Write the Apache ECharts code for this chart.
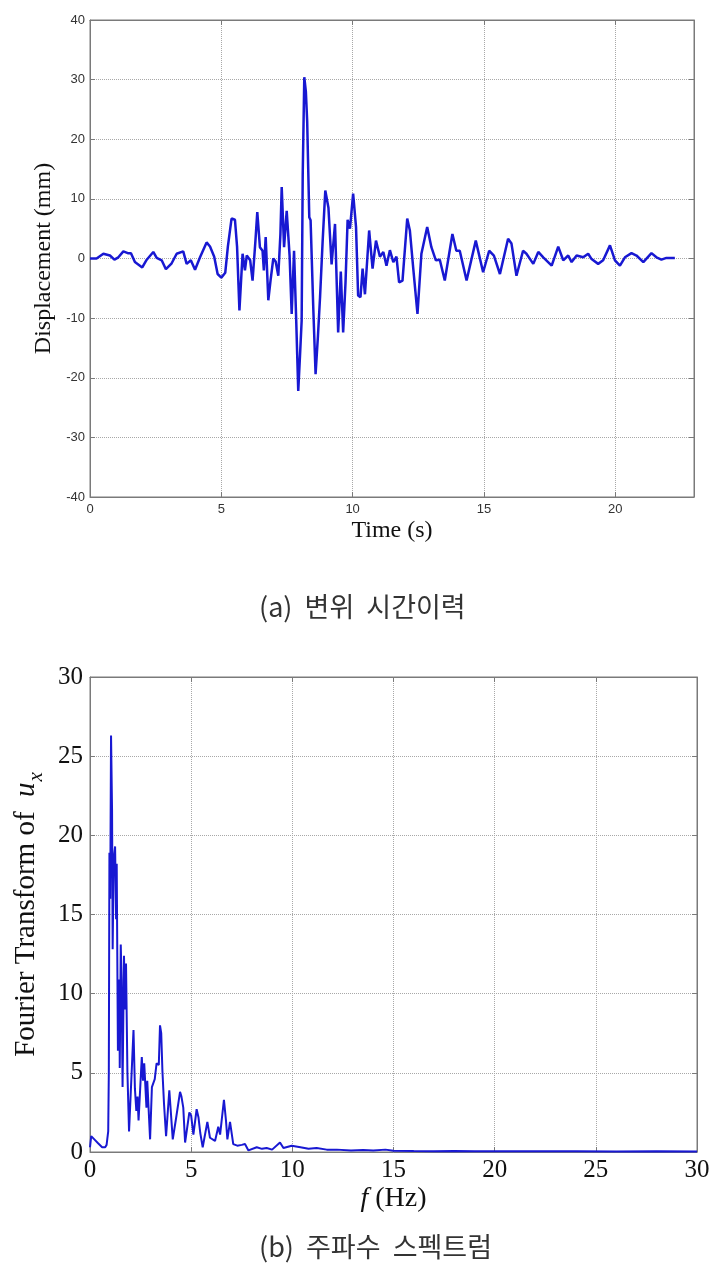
<!DOCTYPE html>
<html><head><meta charset="utf-8">
<script src="https://cdn.jsdelivr.net/npm/echarts/dist/echarts.min.js"></script>
<style>html,body{margin:0;padding:0;background:#fff}#c{width:716px;height:1271px}</style>
</head><body><div id="c"></div>
<script>
// (a) displacement time history
const timeS = [0,0.25,0.51,0.76,0.93,1.08,1.27,1.44,1.56,1.71,1.99,2.16,2.41,2.54,2.73,2.89,3.11,3.3,3.55,3.68,3.84,4.0,4.19,4.44,4.57,4.73,4.86,5.0,5.15,5.25,5.39,5.52,5.6,5.69,5.81,5.9,5.97,6.1,6.19,6.3,6.37,6.47,6.57,6.62,6.69,6.79,6.88,6.98,7.07,7.17,7.25,7.3,7.39,7.49,7.6,7.68,7.77,7.85,7.93,8.0,8.06,8.1,8.16,8.22,8.27,8.35,8.4,8.5,8.59,8.68,8.76,8.86,8.96,9.08,9.2,9.33,9.45,9.55,9.64,9.73,9.81,9.9,10.02,10.13,10.21,10.3,10.38,10.47,10.63,10.76,10.89,11.04,11.17,11.29,11.42,11.55,11.67,11.77,11.9,12.08,12.18,12.31,12.47,12.62,12.84,13.0,13.17,13.32,13.51,13.8,13.95,14.08,14.34,14.69,14.97,15.2,15.38,15.61,15.92,16.05,16.24,16.49,16.62,16.88,17.07,17.26,17.58,17.83,18.02,18.21,18.34,18.53,18.78,18.97,19.1,19.35,19.54,19.8,19.99,20.18,20.37,20.62,20.81,21.07,21.38,21.57,21.76,21.95,22.27];
const dispMM = [0,0,0.8,0.5,-0.2,0.2,1.2,0.9,0.9,-0.6,-1.5,-0.2,1.1,0.1,-0.3,-1.8,-0.8,0.8,1.2,-0.9,-0.3,-1.9,0.2,2.7,2.0,0.3,-2.6,-3.2,-2.4,2.0,6.7,6.5,2.0,-8.7,0.8,-2.0,0.5,-0.3,-3.7,3.0,7.8,1.9,1.3,-2.0,3.6,-7.0,-3.5,0.0,-0.5,-2.9,4.0,12.0,1.9,8.0,0.5,-9.3,1.3,-10,-22.2,-16,-10.4,14,30.4,28,23,6.9,6.4,-8,-19.4,-13,-6.5,3,11.4,8.5,-1,5.8,-12.4,-2.2,-12.4,-4,6.5,5.0,10.9,5.3,-6.2,-6.5,-1.7,-6.0,4.7,-1.7,3.0,0.3,1.1,-1.2,1.4,-0.6,0.3,-4.0,-3.7,6.7,4.7,-1.7,-9.3,0.8,5.3,1.9,-0.3,-0.2,-3.7,4.1,1.3,1.3,-3.7,3.0,-2.3,1.3,0.5,-2.6,3.3,2.5,-2.9,1.3,0.8,-0.9,1.1,0.2,-1.2,2.0,-0.3,0.5,-0.6,0.5,0.2,0.8,-0.1,-0.9,-0.3,2.2,-0.3,-1.2,0.2,0.9,0.5,-0.6,0.9,0.2,-0.2,0.1,0.1];
// (b) Fourier spectrum
const freqHz = [0,0.06,0.15,0.25,0.4,0.49,0.6,0.66,0.75,0.82,0.9,0.93,0.96,1.0,1.04,1.09,1.12,1.17,1.24,1.29,1.32,1.38,1.45,1.47,1.52,1.56,1.61,1.68,1.73,1.78,1.85,1.93,2.0,2.15,2.22,2.29,2.35,2.4,2.56,2.62,2.68,2.79,2.83,2.97,3.06,3.2,3.29,3.4,3.46,3.52,3.58,3.66,3.76,3.92,4.09,4.25,4.45,4.52,4.61,4.7,4.91,5.0,5.11,5.27,5.36,5.45,5.57,5.8,5.93,6.18,6.34,6.43,6.62,6.72,6.79,6.92,7.08,7.28,7.5,7.66,7.83,8.24,8.5,8.73,9.0,9.39,9.56,9.97,10.4,10.8,11.2,11.7,12.2,12.9,13.5,14.0,14.6,15.0,16,17,18,19,20,22,24,26,28,30];
const fourierAmp = [0.3,1.0,0.9,0.75,0.55,0.45,0.3,0.25,0.3,0.45,1.3,5,18.9,16,26.3,21.6,12.8,18.5,19.3,14.7,18.2,6.4,10.9,5.3,13.1,10.9,4.1,12.4,9,11.9,5,1.3,1.2,7.7,4,2.6,3.5,2.0,6.0,4.5,5.6,2.8,4.5,0.8,4.1,4.6,5.6,5.5,8.0,7.5,5.1,3.0,1.0,3.9,0.8,2.1,3.8,3.5,2.8,0.6,2.5,2.3,1.1,2.7,2.2,1.2,0.3,1.9,0.9,0.7,1.6,1.1,3.3,2,0.8,1.9,0.5,0.4,0.45,0.5,0.1,0.3,0.2,0.25,0.15,0.6,0.25,0.4,0.3,0.2,0.25,0.15,0.15,0.1,0.12,0.1,0.15,0.08,0.06,0.05,0.06,0.04,0.05,0.04,0.05,0.03,0.04,0.03];
const xTicksA = [0,23,5]; // min,max,interval
const yTicksA = [-40,40,10];
const xTicksB = [0,30,5];
const yTicksB = [0,30,5];

const BOX = '#7a7a7a';
const GRIDC = '#a8a8a8';
const LINE = '#1818d2';
const SERIF = '"Liberation Serif","Times New Roman",serif';
const SANS = 'Arial,"Liberation Sans",sans-serif';
const KR = '"Noto Sans CJK KR",sans-serif';

function ax(grid, t, opts) {
  return Object.assign({
    type: 'value', gridIndex: grid, min: t[0], max: t[1], interval: t[2],
    axisLine: {show: true, onZero: false, lineStyle: {color: BOX, width: 1}},
    axisTick: {show: true, inside: true, length: 5, lineStyle: {color: BOX}},
    splitLine: {show: false}
  }, opts);
}
const mirror = {axisLabel: {show: false}, splitLine: {show: false}};
const split = {show: true, lineStyle: {type: 'dotted', color: GRIDC, width: 1}};

const chart = echarts.init(document.getElementById('c'), null, {renderer: 'canvas'});
chart.setOption({
  animation: false,
  backgroundColor: '#fff',
  title: [
    {text: '(a)  변위  시간이력', left: 254, top: 588, textStyle: {fontFamily: KR, fontWeight: 'normal', fontSize: 27, color: '#333'}},
    {text: '(b)  주파수  스펙트럼', left: 254, top: 1228, textStyle: {fontFamily: KR, fontWeight: 'normal', fontSize: 27, color: '#333'}}
  ],
  grid: [
    {left: 90, top: 20, width: 604, height: 477, show: true, borderColor: BOX, borderWidth: 1, backgroundColor: '#fff'},
    {left: 90, top: 677, width: 607, height: 475, show: true, borderColor: BOX, borderWidth: 1, backgroundColor: '#fff'}
  ],
  xAxis: [
    ax(0, xTicksA, {position: 'bottom', splitLine: split,
      axisLabel: {fontFamily: SANS, fontSize: 13, color: '#333', margin: 6, showMaxLabel: false},
      name: 'Time (s)', nameLocation: 'middle', nameGap: 22,
      nameTextStyle: {fontFamily: SERIF, fontSize: 24, color: '#111'}}),
    ax(0, xTicksA, Object.assign({position: 'top'}, mirror)),
    ax(1, xTicksB, {position: 'bottom', splitLine: split,
      axisLabel: {fontFamily: SERIF, fontSize: 25, color: '#111', margin: 6},
      name: '{i|f} (Hz)', nameLocation: 'middle', nameGap: 33,
      nameTextStyle: {fontFamily: SERIF, fontSize: 28, color: '#111', rich: {i: {fontFamily: SERIF, fontSize: 28, fontStyle: 'italic', color: '#111'}}}}),
    ax(1, xTicksB, Object.assign({position: 'top'}, mirror))
  ],
  yAxis: [
    ax(0, yTicksA, {position: 'left', splitLine: split,
      axisLabel: {fontFamily: SANS, fontSize: 13, color: '#333', margin: 5},
      name: 'Displacement (mm)', nameLocation: 'middle', nameGap: 23, nameRotate: 90,
      nameTextStyle: {fontFamily: SERIF, fontSize: 24, color: '#111'}}),
    ax(0, yTicksA, Object.assign({position: 'right'}, mirror)),
    ax(1, yTicksB, {position: 'left', splitLine: split,
      axisLabel: {fontFamily: SERIF, fontSize: 25, color: '#111', margin: 7},
      name: 'Fourier Transform of  {u|u}{s|x}', nameLocation: 'middle', nameGap: 42, nameRotate: 90,
      nameTextStyle: {fontFamily: SERIF, fontSize: 29, color: '#111',
        rich: {u: {fontFamily: SERIF, fontSize: 29, fontStyle: 'italic', color: '#111'},
               s: {fontFamily: SERIF, fontSize: 21, fontStyle: 'italic', color: '#111', padding: [20, 0, 0, 1]}}}}),
    ax(1, yTicksB, Object.assign({position: 'right'}, mirror))
  ],
  series: [
    {type: 'line', xAxisIndex: 0, yAxisIndex: 0, showSymbol: false, smooth: false,
     data: timeS.map((t, i) => [t, dispMM[i]]), lineStyle: {color: LINE, width: 2.5}},
    {type: 'line', xAxisIndex: 2, yAxisIndex: 2, showSymbol: false, smooth: false,
     data: freqHz.map((f, i) => [f, fourierAmp[i]]), lineStyle: {color: LINE, width: 2}}
  ]
});
</script></body></html>
